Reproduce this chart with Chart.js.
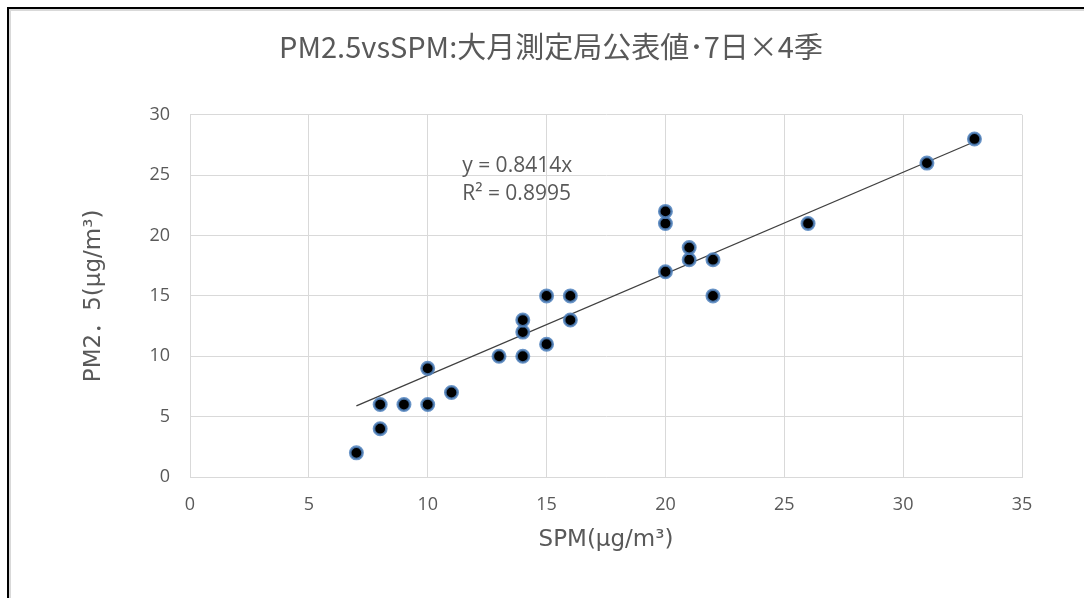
<!DOCTYPE html>
<html>
<head>
<meta charset="utf-8">
<script src="https://cdn.jsdelivr.net/npm/chart.js@4/dist/chart.umd.min.js"></script>
<style>
  html,body{margin:0;padding:0;background:#fff;}
  #wrap{position:relative;width:1084px;height:598px;overflow:hidden;}
  /* Excel chart frame, cropped on the right and bottom */
  #frame{position:absolute;left:7px;top:7px;width:1200px;height:700px;
    border-left:2px solid #000;border-top:2px solid #000;}
  #frame2{position:absolute;left:9px;top:9px;width:1200px;height:700px;
    border-left:2px solid #d9d9d9;border-top:2px solid #d9d9d9;}
  canvas{position:absolute;left:0;top:0;}
</style>
</head>
<body>
<div id="wrap">
  <div id="frame"></div><div id="frame2"></div>
  <canvas id="c" width="1084" height="598"></canvas>
</div>
<script>
// SPM vs PM2.5 (μg/m³), 大月測定局
const spm  = [7, 8, 8, 9, 10, 10, 11, 13, 14, 14, 14, 15, 15, 16, 16, 20, 20, 20, 21, 21, 22, 22, 26, 31, 33];
const pm25 = [2, 4, 6, 6,  6,  9,  7, 10, 10, 12, 13, 11, 15, 13, 15, 17, 21, 22, 18, 19, 18, 15, 21, 26, 28];
const slope = 0.8414, r2 = 0.8995;
const xTicks = [0, 35, 5], yTicks = [0, 30, 5]; // min, max, step

const GREY = '#595959', GRID = '#d9d9d9';
const LAT = "'Open Sans','Noto Sans',sans-serif";
const JP = "'Noto Sans CJK JP','Noto Sans',sans-serif";
const AX = "'DejaVu Sans','Noto Sans CJK JP',sans-serif";

const pts = spm.map((x, i) => ({x, y: pm25[i]}));
const x0 = Math.min(...spm), x1 = Math.max(...spm);
const trend = [{x: x0, y: slope * x0}, {x: x1, y: slope * x1}];

// trendline equation label
const eqLabel = {
  id: 'eqLabel',
  afterDatasetsDraw(ch) {
    const {ctx, scales: {x, y}} = ch;
    const px = x.getPixelForValue(11.45), py = y.getPixelForValue(25.75);
    ctx.save();
    ctx.fillStyle = GREY;
    ctx.font = '21px ' + LAT;
    ctx.textBaseline = 'middle';
    ctx.fillText('y = ' + slope + 'x', px, py);
    ctx.fillText('R² = ' + r2, px, py + 28);
    ctx.restore();
  }
};

new Chart(document.getElementById('c'), {
  type: 'scatter',
  data: {datasets: [
    {type: 'line', data: trend, borderColor: '#404040', borderWidth: 1.3,
     pointRadius: 0, fill: false, order: 2},
    {data: pts, backgroundColor: '#000', borderColor: 'rgba(79,129,189,0.85)',
     borderWidth: 2.6, pointRadius: 6.2, order: 1}
  ]},
  options: {
    responsive: false, animation: false,
    layout: {padding: {left: 80, right: 62, top: 0, bottom: 0}},
    plugins: {
      legend: {display: false}, tooltip: {enabled: false},
      title: {display: true, text: 'PM2.5vsSPM:大月測定局公表値･7日×4季',
        color: GREY, font: {family: JP, size: 29, weight: 'normal'},
        padding: {top: 30, bottom: 50}}
    },
    scales: {
      x: {type: 'linear', min: xTicks[0], max: xTicks[1],
        ticks: {stepSize: xTicks[2], color: GREY, font: {family: LAT, size: 18}, padding: 17},
        grid: {color: GRID, drawTicks: false}, border: {color: GRID},
        title: {display: true, text: 'SPM(μg/m³)', color: GREY,
          font: {family: AX, size: 23}, padding: {top: 0, bottom: 44}},
        afterFit: s => { s.height = 121; }},
      y: {type: 'linear', min: yTicks[0], max: yTicks[1],
        ticks: {stepSize: yTicks[2], color: GREY, font: {family: LAT, size: 18}, padding: 20},
        grid: {color: GRID, drawTicks: false}, border: {color: GRID},
        title: {display: true, text: 'PM2．5(μg/m³)', color: GREY,
          font: {family: AX, size: 23}, padding: {top: 0, bottom: 0}},
        afterFit: s => { s.width = 110; }}
    }
  },
  plugins: [eqLabel]
});
</script>
</body>
</html>
